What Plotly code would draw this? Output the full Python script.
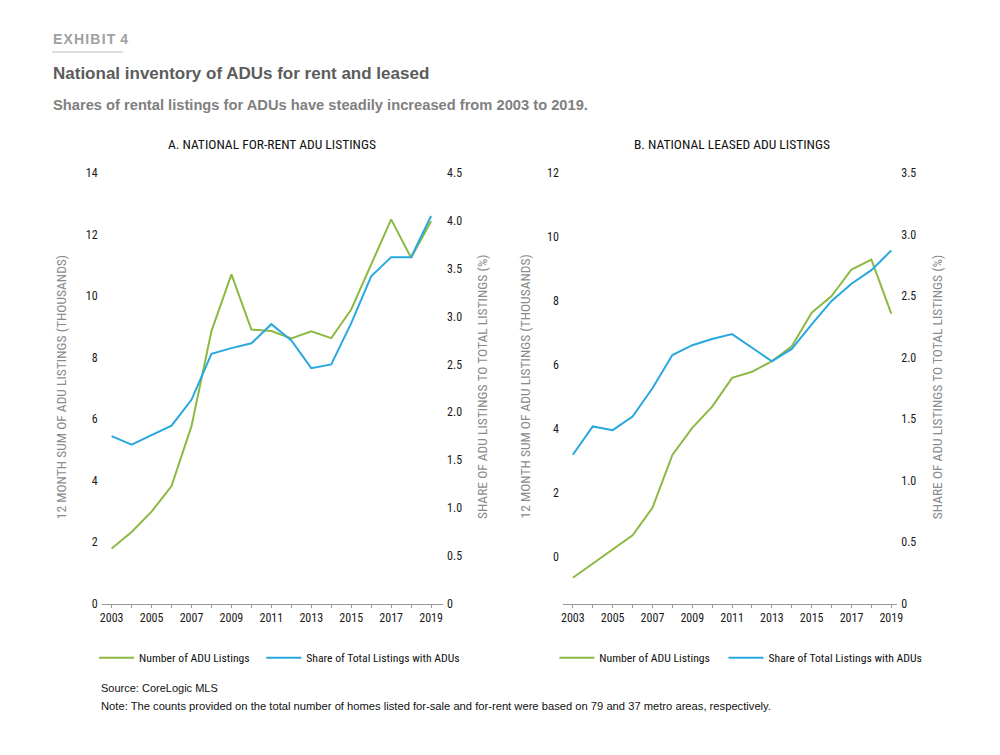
import plotly.graph_objs as go

# data
years = list(range(2003, 2020))
year_labels = [str(y) if (y - 2003) % 2 == 0 else "" for y in years]

rent_listings = [1.79, 2.33, 2.99, 3.82, 5.77, 8.86, 10.70, 8.91, 8.86, 8.62,
                 8.85, 8.63, 9.56, 11.02, 12.49, 11.24, 12.43]
rent_share = [1.75, 1.66, 1.76, 1.86, 2.13, 2.61, 2.67, 2.72, 2.92, 2.75,
              2.46, 2.50, 2.93, 3.42, 3.62, 3.62, 4.05]

leased_listings = [-0.66, -0.21, 0.23, 0.67, 1.53, 3.18, 4.03, 4.69, 5.59, 5.78,
                   6.11, 6.58, 7.63, 8.15, 8.98, 9.29, 7.60]
leased_share = [1.21, 1.44, 1.41, 1.52, 1.75, 2.02, 2.10, 2.15, 2.19, 2.08,
                1.97, 2.07, 2.27, 2.46, 2.60, 2.71, 2.87]

left_ticks_a = [0, 2, 4, 6, 8, 10, 12, 14]
right_ticks_a = ['0', '0.5', '1.0', '1.5', '2.0', '2.5', '3.0', '3.5', '4.0', '4.5']
left_ticks_b = [0, 2, 4, 6, 8, 10, 12]
right_ticks_b = ['0', '0.5', '1.0', '1.5', '2.0', '2.5', '3.0', '3.5']

GREEN = 'rgb(141,185,67)'
BLUE = 'rgb(41,168,223)'
COND = 'Roboto Condensed, Liberation Sans Narrow, sans-serif'
SANS = 'Liberation Sans, Arial, sans-serif'

W, H = 1000, 755
# the page is shown a little shrunk and shifted, so positions below are
# given in screen pixels and mapped back to paper coords
SX, OX = 0.985, 12
SY, OY = 0.982, 14


def px(x):
    return ((x - OX) / SX) / W


def py(y):
    return (H - (y - OY) / SY) / H


trace1 = go.Scatter(x=years, y=rent_listings, name='Number of ADU Listings',
                    line=dict(color=GREEN, width=2), xaxis='x', yaxis='y',
                    legend='legend', mode='lines')
trace2 = go.Scatter(x=years, y=rent_share, name='Share of Total Listings with ADUs',
                    line=dict(color=BLUE, width=2), xaxis='x', yaxis='y2',
                    legend='legend2', mode='lines')
trace3 = go.Scatter(x=years, y=leased_listings, name='Number of ADU Listings',
                    line=dict(color=GREEN, width=2), xaxis='x2', yaxis='y3',
                    legend='legend3', mode='lines')
trace4 = go.Scatter(x=years, y=leased_share, name='Share of Total Listings with ADUs',
                    line=dict(color=BLUE, width=2), xaxis='x2', yaxis='y4',
                    legend='legend4', mode='lines')

tickfont = dict(family=COND, size=12, color='#1a1a1a')


def xaxis(dom, rng, anchor):
    return dict(domain=dom, range=rng, anchor=anchor, tickmode='array',
                tickvals=years, ticktext=year_labels, ticks='outside', ticklen=3,
                tickcolor='#999', showline=True, linecolor='#999', linewidth=1,
                showgrid=False, zeroline=False, tickfont=tickfont, fixedrange=True)


def yaxis(rng, anchor, tickvals, ticktext, side='left', overlaying=None):
    d = dict(domain=[py(603), py(172)], range=rng, anchor=anchor, side=side,
             showgrid=False, zeroline=False, showline=False, tickfont=tickfont,
             ticks='', ticklabelstandoff=3, tickmode='array',
             tickvals=tickvals, ticktext=ticktext)
    if overlaying:
        d['overlaying'] = overlaying
    return d


def legend(x):
    return dict(orientation='h', x=px(x) - 6.6 / W, y=py(657), xanchor='left',
                yanchor='middle', font=dict(family=COND, size=11.7, color='#111'),
                itemwidth=35, bgcolor='rgba(0,0,0,0)')


ann = []


def text(x, y, s, size, color, family=SANS, anchor='left', angle=0):
    ann.append(dict(x=px(x), y=py(y), xref='paper', yref='paper', text=s,
                    showarrow=False, xanchor=anchor, yanchor='middle',
                    textangle=angle, font=dict(family=family, size=size, color=color)))


text(53, 38, '<b>E\u200aX\u200aH\u200aI\u200aB\u200aI\u200aT\u200a 4</b>', 14, '#a0a0a0')
text(53, 73, '<b>National inventory of ADUs for rent and leased</b>', 17, '#5c5c5c')
text(53, 104, '<b>Shares of rental listings for ADUs have steadily increased from 2003 to 2019.</b>',
     14.7, '#808080')
text(272, 143, 'A. NATIONAL FOR-RENT ADU LISTINGS', 13.5, '#111', COND, 'center')
text(729, 143, 'B. NATIONAL LEASED ADU LISTINGS', 13.5, '#111', COND, 'center')
text(62, 386, '12 MONTH SUM OF ADU LISTINGS (THOUSANDS)', 13.5, '#8a8a8a', COND, 'center', -90)
text(480, 386, 'SHARE OF ADU LISTINGS TO TOTAL LISTINGS (%)', 13.5, '#8a8a8a', COND, 'center', -90)
text(523, 386, '12 MONTH SUM OF ADU LISTINGS (THOUSANDS)', 13.5, '#8a8a8a', COND, 'center', -90)
text(932, 386, 'SHARE OF ADU LISTINGS TO TOTAL LISTINGS (%)', 13.5, '#8a8a8a', COND, 'center', -90)
text(100, 687, 'Source: CoreLogic MLS', 11, '#111')
text(100, 705, 'Note: The counts provided on the total number of homes listed for-sale and for-rent '
     'were based on 79 and 37 metro areas, respectively.', 11.2, '#111')

layout = go.Layout(
    width=W, height=H,
    margin=dict(l=0, r=0, t=0, b=0),
    paper_bgcolor='white', plot_bgcolor='white',
    showlegend=True,
    xaxis=xaxis([px(103), px(442)], [2002.5, 2019.6], 'y'),
    yaxis=yaxis([0, 14], 'x', left_ticks_a, None),
    yaxis2=yaxis([0, 4.5], 'x', [float(t) for t in right_ticks_a], right_ticks_a,
                 side='right', overlaying='y'),
    xaxis2=xaxis([px(561), px(893)], [2002.5, 2019.3], 'y3'),
    yaxis3=yaxis([-1.47, 12], 'x2', left_ticks_b, None),
    yaxis4=yaxis([0, 3.5], 'x2', [float(t) for t in right_ticks_b], right_ticks_b,
                 side='right', overlaying='y3'),
    legend=legend(102),
    legend2=legend(268),
    legend3=legend(559),
    legend4=legend(727),
    annotations=ann,
    shapes=[dict(type='line', xref='paper', yref='paper', x0=px(54), x1=px(124),
                 y0=py(51), y1=py(51), line=dict(color='#bbbbbb', width=1))],
)

fig = go.Figure(data=[trace1, trace2, trace3, trace4], layout=layout)
fig.write_html("out.html")
